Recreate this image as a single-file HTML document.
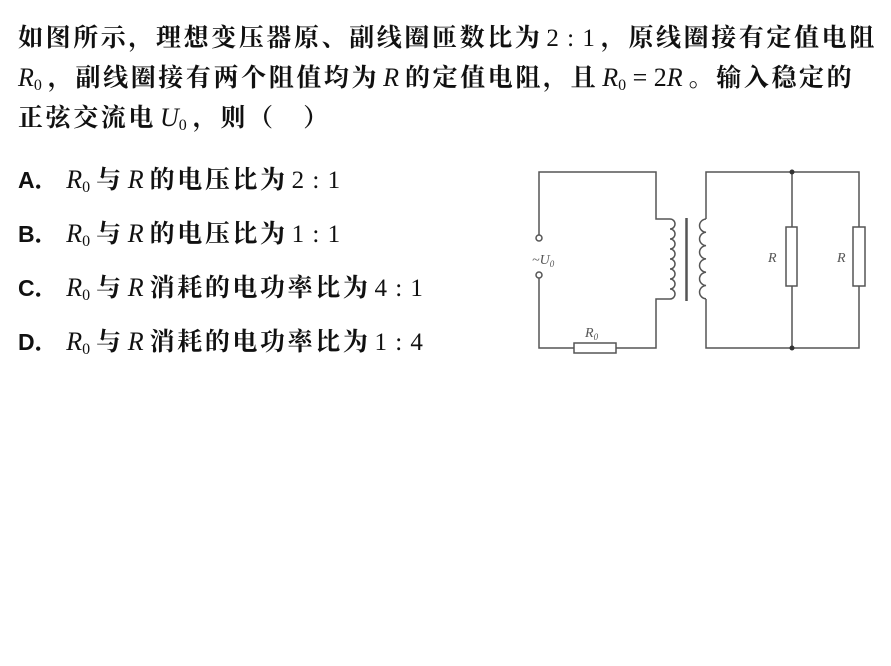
<!DOCTYPE html>
<html><head><meta charset="utf-8"><style>
body{margin:0;width:891px;height:666px;background:#fff;overflow:hidden;position:relative;font-family:"Liberation Serif","Noto Serif CJK SC",serif;color:#111}
.t{position:absolute;left:18px;font-size:25px;letter-spacing:2.6px;white-space:nowrap;font-weight:bold;font-family:"Noto Serif CJK SC","Liberation Serif",serif}
i{font-family:"Liberation Serif",serif;font-weight:normal;font-size:26px;letter-spacing:0;margin:0 6px 0 4px}
sub{font-size:16px;font-style:normal;vertical-align:-4px}
.m{font-family:"Liberation Serif",serif;font-weight:normal;font-size:25px;letter-spacing:0;margin:0 6px 0 4px;word-spacing:2px}
b{font-family:"Liberation Sans",sans-serif;letter-spacing:0;font-size:23px}
</style></head><body>
<div class="t" style="top:18px">如图所示，理想变压器原、副线圈匝数比为<span class="m">2 : 1</span>，原线圈接有定值电阻</div>
<div class="t" style="top:58px"><i style="margin-left:0">R<sub>0</sub></i>，副线圈接有两个阻值均为<i>R</i>的定值电阻，且<i>R<sub>0</sub> <span style="font-style:normal">= 2</span>R</i>。输入稳定的</div>
<div class="t" style="top:98px">正弦交流电<i>U<sub>0</sub></i>，则（　）</div>
<div class="t" style="top:160px"><b>A</b>．<i>R<sub>0</sub></i>与<i>R</i>的电压比为<span class="m">2 : 1</span></div>
<div class="t" style="top:214px"><b>B</b>．<i>R<sub>0</sub></i>与<i>R</i>的电压比为<span class="m">1 : 1</span></div>
<div class="t" style="top:268px"><b>C</b>．<i>R<sub>0</sub></i>与<i>R</i>消耗的电功率比为<span class="m">4 : 1</span></div>
<div class="t" style="top:322px"><b>D</b>．<i>R<sub>0</sub></i>与<i>R</i>消耗的电功率比为<span class="m">1 : 4</span></div>
<svg width="891" height="666" style="position:absolute;left:0;top:0" fill="none" stroke="#555" stroke-width="1.5">
<path d="M539 235V172H656V219H670M670 299H656V348H616M574 348H539V278"/>
<circle cx="539" cy="238" r="3" fill="#fff"/><circle cx="539" cy="275" r="3" fill="#fff"/>
<rect x="574" y="343" width="42" height="10" fill="#fff"/>
<path d="M670 219 a5 5 0 0 1 0 10 a5 5 0 0 1 0 10 a5 5 0 0 1 0 10 a5 5 0 0 1 0 10 a5 5 0 0 1 0 10 a5 5 0 0 1 0 10 a5 5 0 0 1 0 10 a5 5 0 0 1 0 10"/>
<line x1="686.5" y1="218" x2="686.5" y2="301" stroke-width="2.5"/>
<path d="M706 219 a7 6.67 0 0 0 0 13.3 a7 6.67 0 0 0 0 13.3 a7 6.67 0 0 0 0 13.3 a7 6.67 0 0 0 0 13.3 a7 6.67 0 0 0 0 13.3 a7 6.67 0 0 0 0 13.3"/>
<path d="M706 219V172H859V227M859 286V348H706V299"/>
<path d="M792 172V227M792 286V348"/>
<rect x="786" y="227" width="11" height="59" fill="#fff"/>
<rect x="853" y="227" width="12" height="59" fill="#fff"/>
<circle cx="792" cy="172" r="2.5" fill="#333" stroke="none"/><circle cx="792" cy="348" r="2.5" fill="#333" stroke="none"/>
<g fill="#555" stroke="none" font-family="Liberation Serif" font-style="italic" font-size="14">
<text x="532" y="264">~U<tspan font-size="9" dy="3">0</tspan></text>
<text x="585" y="337">R<tspan font-size="9" dy="3">0</tspan></text>
<text x="768" y="262">R</text><text x="837" y="262">R</text>
</g>
</svg>
</body></html>
